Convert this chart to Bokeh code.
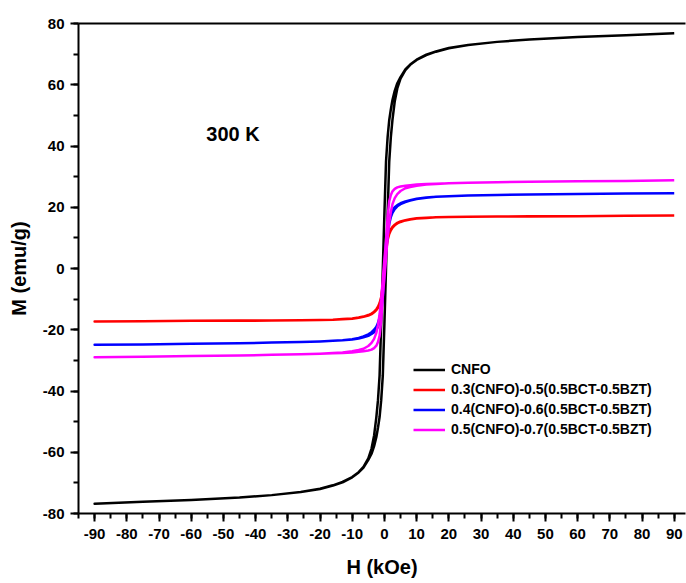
from bokeh.plotting import figure
from bokeh.models import LinearAxis, FixedTicker, Label, Range1d, CustomJSTickFormatter
from bokeh.embed import file_html
from bokeh.resources import INLINE

# Field grid (kOe)
H = [-90, -75, -60, -45, -35, -26, -20, -16, -13, -10, -8, -6.5, -5, -4, -3.2, -2.5, -2, -1.5, -1, -0.5,
     0, 0.5, 1, 1.5, 2, 2.5, 3.2, 4, 5, 6.5, 8, 10, 13, 16, 20, 26, 35, 45, 60, 75, 90]

# CNFO
cnfo_desc = [-76.8, -76.2, -75.6, -74.8, -74.0, -73.0, -71.9, -70.8, -69.7, -68.1, -66.5, -64.8, -62.0, -58.8,
             -54.5, -48.5, -43.0, -35.0, -18.0, 0.0, 18.0, 35.0, 43.0, 48.5, 52.0, 55.0, 58.0, 60.5, 62.5, 65.0,
             66.6, 68.2, 69.8, 70.9, 72.0, 73.0, 74.0, 74.8, 75.6, 76.2, 76.8]
cnfo_asc = [-76.8, -76.2, -75.6, -74.8, -74.0, -73.0, -72.0, -70.9, -69.8, -68.2, -66.6, -65.0, -62.5, -60.5,
            -58.0, -55.0, -52.0, -48.5, -43.0, -35.0, -18.0, 0.0, 18.0, 35.0, 43.0, 48.5, 54.5, 58.8, 62.0, 64.8,
            66.5, 68.1, 69.7, 70.8, 71.9, 73.0, 74.0, 74.8, 75.6, 76.2, 76.8]

# 0.3(CNFO)-0.5(0.5BCT-0.5BZT)
red_desc = [-17.3, -17.2, -17.1, -17.0, -16.95, -16.9, -16.8, -16.7, -16.5, -16.3, -16.0, -15.7, -15.2, -14.7,
            -14.1, -13.3, -12.5, -11.3, -9.3, -5.5, 0.5, 6.0, 9.5, 11.5, 12.8, 13.6, 14.3, 14.9, 15.4, 15.8,
            16.1, 16.4, 16.6, 16.7, 16.8, 16.9, 17.0, 17.05, 17.1, 17.2, 17.3]
red_asc = [-17.3, -17.2, -17.1, -17.05, -17.0, -16.9, -16.8, -16.7, -16.6, -16.4, -16.1, -15.8, -15.4, -14.9,
           -14.3, -13.6, -12.8, -11.5, -9.5, -6.0, -0.5, 5.5, 9.3, 11.3, 12.5, 13.3, 14.1, 14.7, 15.2, 15.7,
           16.0, 16.3, 16.5, 16.7, 16.8, 16.9, 16.95, 17.0, 17.1, 17.2, 17.3]

# 0.4(CNFO)-0.6(0.5BCT-0.5BZT)
blue_desc = [-24.9, -24.8, -24.6, -24.4, -24.2, -24.0, -23.8, -23.6, -23.4, -23.1, -22.7, -22.2, -21.5, -20.8,
             -20.0, -19.0, -17.8, -16.0, -12.5, -6.5, 1.0, 8.0, 13.0, 16.0, 17.8, 19.0, 20.0, 20.7, 21.3, 21.9,
             22.3, 22.8, 23.2, 23.4, 23.6, 23.8, 24.0, 24.2, 24.3, 24.5, 24.6]
blue_asc = [-24.9, -24.8, -24.6, -24.4, -24.2, -24.0, -23.8, -23.6, -23.4, -23.2, -22.9, -22.5, -22.0, -21.4,
            -20.8, -20.0, -19.0, -17.5, -14.5, -9.5, -2.0, 5.5, 11.0, 14.5, 16.8, 18.2, 19.4, 20.3, 21.0, 21.7,
            22.2, 22.7, 23.1, 23.4, 23.6, 23.8, 24.0, 24.2, 24.3, 24.5, 24.6]

# 0.5(CNFO)-0.7(0.5BCT-0.5BZT)
mag_desc = [-29.0, -28.8, -28.6, -28.4, -28.2, -28.0, -27.8, -27.6, -27.4, -27.0, -26.6, -26.2, -25.3, -24.3,
            -23.0, -21.0, -18.5, -15.0, -10.0, -3.5, 3.0, 9.0, 17.0, 22.0, 24.0, 25.2, 26.0, 26.5, 26.8, 27.0,
            27.2, 27.4, 27.6, 27.7, 27.8, 28.0, 28.2, 28.3, 28.5, 28.6, 28.8]
mag_asc = [-29.0, -28.8, -28.6, -28.4, -28.2, -28.0, -27.8, -27.7, -27.6, -27.4, -27.2, -27.0, -26.8, -26.5,
           -26.0, -25.2, -24.0, -22.0, -17.0, -9.0, -3.0, 3.5, 10.0, 15.0, 18.5, 21.0, 23.0, 24.3, 25.3, 26.2,
           26.6, 27.0, 27.4, 27.6, 27.8, 28.0, 28.2, 28.3, 28.5, 28.6, 28.8]

series_names = ["CNFO", "0.3(CNFO)-0.5(0.5BCT-0.5BZT)", "0.4(CNFO)-0.6(0.5BCT-0.5BZT)",
                "0.5(CNFO)-0.7(0.5BCT-0.5BZT)"]
series_colors = ["#000000", "#FF0000", "#0000FF", "#FF00FF"]
series_data = [(cnfo_desc, cnfo_asc), (red_desc, red_asc), (blue_desc, blue_asc), (mag_desc, mag_asc)]

x_ticks = list(range(-90, 100, 10))
x_minor = list(range(-95, 100, 5))
y_ticks = list(range(-80, 100, 20))
y_minor = list(range(-80, 90, 10))

FONT = "Liberation Sans"

p = figure(width=686, height=583, output_backend="svg", toolbar_location=None,
           x_range=Range1d(-95, 93.5), y_range=Range1d(-80, 80),
           min_border_left=78, min_border_right=1, min_border_top=23, min_border_bottom=70)
p.background_fill_color = "white"
p.border_fill_color = "white"
p.outline_line_color = None
p.grid.visible = False

for name, color, (d, a) in zip(series_names, series_colors, series_data):
    xs = H[::-1] + H
    ys = d[::-1] + a
    p.line(xs, ys, line_color=color, line_width=2.5, line_join="round", legend_label=name)

fmt = "return tick.toFixed(0);"
for ax in (p.xaxis[0], p.yaxis[0]):
    ax.axis_line_width = 2
    ax.major_tick_line_width = 2
    ax.minor_tick_line_width = 2
    ax.major_tick_in = 0
    ax.minor_tick_in = 0
    ax.major_tick_out = 8
    ax.minor_tick_out = 5
    ax.major_label_text_font = FONT
    ax.major_label_text_font_style = "bold"
    ax.major_label_text_font_size = "15px"
    ax.major_label_text_color = "black"
    ax.axis_label_text_font = FONT
    ax.axis_label_text_font_style = "bold"
    ax.axis_label_text_font_size = "20px"
    ax.axis_label_text_color = "black"
    ax.formatter = CustomJSTickFormatter(code=fmt)

p.xaxis[0].ticker = FixedTicker(ticks=x_ticks, minor_ticks=x_minor)
p.yaxis[0].ticker = FixedTicker(ticks=y_ticks, minor_ticks=y_minor)
p.xaxis[0].axis_label = "H (kOe)"
p.yaxis[0].axis_label = "M (emu/g)"
p.xaxis[0].major_label_standoff = 7
p.yaxis[0].major_label_standoff = 6
p.xaxis[0].axis_label_standoff = 14
p.yaxis[0].axis_label_standoff = 10

top = LinearAxis(ticker=FixedTicker(ticks=[], minor_ticks=[]),
                 major_tick_line_color=None, minor_tick_line_color=None,
                 axis_line_width=2, major_label_standoff=0)
p.add_layout(top, "above")

p.add_layout(Label(x=-55.3, y=44, text="300 K", text_font=FONT, text_font_style="bold",
                   text_font_size="20px", text_baseline="middle", text_align="left",
                   text_color="black"))

lg = p.legend[0]
lg.location = (335, 76)
lg.border_line_color = None
lg.background_fill_alpha = 0
lg.padding = 0
lg.margin = 0
lg.spacing = 4
lg.glyph_width = 32
lg.glyph_height = 15
lg.label_height = 15
lg.label_standoff = 6
lg.label_text_font = FONT
lg.label_text_font_style = "bold"
lg.label_text_font_size = "14px"
lg.label_text_color = "black"

open("out.html", "w").write(file_html(p, INLINE))
